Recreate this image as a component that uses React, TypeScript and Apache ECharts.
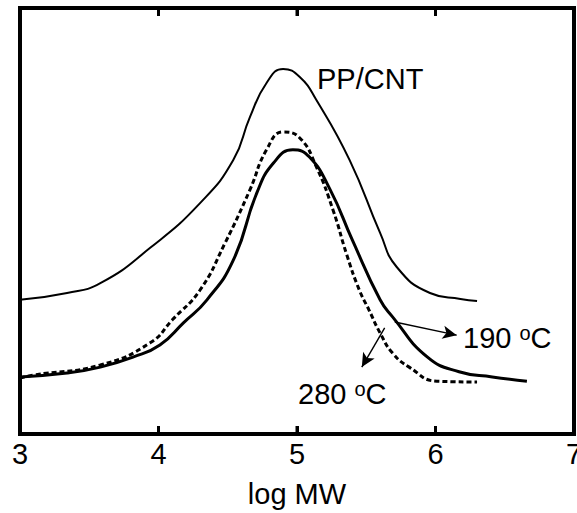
import React, { useEffect, useRef } from "react";
import * as echarts from "echarts";

// log MW values and curve heights (arbitrary units, 0-100 axis)
const ppcntX = [3.0, 3.34, 3.58, 3.94, 4.3, 4.54, 4.66, 4.78, 4.9, 5.02, 5.14, 5.38, 5.6, 5.72, 5.96, 6.18, 6.3];
const ppcntY = [31.5, 33.1, 35.4, 43.7, 54.2, 64.3, 74.4, 82.4, 85.7, 83.8, 78.4, 64.3, 47.2, 39.2, 33.1, 31.7, 31.2];

const c190X = [3.0, 3.34, 3.58, 3.82, 4.01, 4.18, 4.35, 4.54, 4.71, 4.83, 4.97, 5.09, 5.24, 5.4, 5.6, 5.69, 5.94, 6.17, 6.41, 6.66];
const c190Y = [13.4, 14.3, 15.7, 18.1, 20.9, 26.1, 31.5, 40.8, 56.6, 63.6, 66.7, 65.0, 57.3, 45.5, 31.5, 27.5, 18.1, 14.6, 13.4, 12.4];

const c280X = [3.0, 3.09, 3.58, 3.94, 4.1, 4.3, 4.48, 4.66, 4.78, 4.9, 5.02, 5.14, 5.26, 5.36, 5.45, 5.52, 5.6, 5.69, 5.81, 6.01, 6.3];
const c280Y = [13.1, 13.8, 16.2, 21.4, 26.8, 33.8, 44.8, 57.3, 66.7, 70.9, 69.5, 62.7, 52.6, 42.0, 33.8, 29.1, 23.7, 19.0, 15.7, 12.4, 12.2];

const xTicks = [3, 4, 5, 6, 7];
const yRange = [0, 100];

// annotation arrows (data coords): [from, to]
const arrow190 = [[5.706, 26.3], [6.153, 23.2]];
const arrow280 = [[5.633, 24.9], [5.468, 15.7]];

const FONT = "'Liberation Sans', Arial, sans-serif";

function zip(xs: number[], ys: number[]) {
  return xs.map((x, i) => [x, ys[i]]);
}
function mkTick() {
  return { show: true, inside: true, length: 8, lineStyle: { color: "#000", width: 3 } };
}
function mkLine() {
  return { show: true, onZero: false, lineStyle: { color: "#000", width: 4 } };
}

export default function App() {
  const ref = useRef<HTMLDivElement>(null);
  useEffect(() => {
    if (!ref.current) return;
    const chart = echarts.init(ref.current, null, { renderer: "svg" });
    chart.setOption({
      animation: false,
      backgroundColor: "#fff",
      grid: { left: 20, right: 3, top: 8, bottom: 79, outerBoundsMode: "none" },
      xAxis: [
        {
          type: "value",
          z: 20,
          min: xTicks[0],
          max: xTicks[xTicks.length - 1],
          interval: 1,
          position: "bottom",
          name: "log MW",
          nameLocation: "middle",
          nameGap: 45,
          nameTextStyle: { fontFamily: FONT, fontSize: 29, color: "#000" },
          axisLine: mkLine(),
          axisTick: mkTick(),
          axisLabel: { show: true, margin: 5, fontFamily: FONT, fontSize: 29, color: "#000" },
          splitLine: { show: false },
        },
        {
          type: "value",
          z: 20,
          min: xTicks[0],
          max: xTicks[xTicks.length - 1],
          interval: 1,
          position: "top",
          axisLine: mkLine(),
          axisTick: mkTick(),
          axisLabel: { show: false },
          splitLine: { show: false },
        },
      ],
      yAxis: [
        {
          type: "value",
          z: 20,
          min: yRange[0],
          max: yRange[1],
          position: "left",
          axisLine: mkLine(),
          axisTick: { show: false },
          axisLabel: { show: false },
          splitLine: { show: false },
        },
        {
          type: "value",
          z: 20,
          min: yRange[0],
          max: yRange[1],
          position: "right",
          axisLine: mkLine(),
          axisTick: { show: false },
          axisLabel: { show: false },
          splitLine: { show: false },
        },
      ],
      series: [
        {
          name: "PP/CNT",
          type: "line",
          data: zip(ppcntX, ppcntY),
          smooth: 0.5,
          showSymbol: false,
          lineStyle: { color: "#000", width: 2 },
        },
        {
          name: "190 °C",
          type: "line",
          data: zip(c190X, c190Y),
          smooth: 0.5,
          showSymbol: false,
          lineStyle: { color: "#000", width: 3 },
          markLine: {
            silent: true,
            symbol: ["none", "arrow"],
            symbolSize: [10, 14],
            label: { show: false },
            lineStyle: { color: "#000", width: 1.4, type: "solid" },
            data: [
              [{ coord: arrow190[0] }, { coord: arrow190[1] }],
              [{ coord: arrow280[0] }, { coord: arrow280[1] }],
            ],
          },
        },
        {
          name: "280 °C",
          type: "line",
          data: zip(c280X, c280Y),
          smooth: 0.5,
          showSymbol: false,
          lineStyle: { color: "#000", width: 3, type: [5, 3] },
        },
      ],
    });

    // frame edges and top ticks placed through the chart's own scales
    const tl = chart.convertToPixel({ gridIndex: 0 }, [xTicks[0], yRange[1]]) as number[];
    const br = chart.convertToPixel({ gridIndex: 0 }, [xTicks[xTicks.length - 1], yRange[0]]) as number[];
    const edge = (x1: number, y1: number, x2: number, y2: number, w: number) => ({
      type: "line",
      silent: true,
      z: 100,
      shape: { x1, y1, x2, y2 },
      style: { stroke: "#000", lineWidth: w },
    });
    const frame = [
      edge(tl[0] - 2, tl[1], br[0] + 2, tl[1], 4),
      edge(br[0], tl[1], br[0], br[1], 4),
      edge(tl[0], tl[1], tl[0], br[1], 4),
      edge(tl[0] - 2, br[1], br[0] + 2, br[1], 4),
    ];
    const ticks = xTicks.slice(1, -1).flatMap((t) => {
      const p = chart.convertToPixel({ gridIndex: 0 }, [t, yRange[1]]) as number[];
      return [edge(p[0], tl[1], p[0], tl[1] + 8, 3), edge(p[0], br[1], p[0], br[1] - 8, 3)];
    });
    const supRich = { s: { fontSize: 20, fontFamily: FONT, verticalAlign: "top", fill: "#000" } };
    chart.setOption({
      graphic: [
        ...frame,
        ...ticks,
        {
          type: "text",
          z: 100,
          left: 317,
          top: 64,
          style: { text: "PP/CNT", font: `29px ${FONT}`, fill: "#000" },
        },
        {
          type: "text",
          z: 100,
          left: 463,
          top: 323,
          style: { text: "190 {s|o}C", font: `29px ${FONT}`, fill: "#000", rich: supRich },
        },
        {
          type: "text",
          z: 100,
          left: 298,
          top: 379,
          style: { text: "280 {s|o}C", font: `29px ${FONT}`, fill: "#000", rich: supRich },
        },
      ],
    });
    return () => chart.dispose();
  }, []);
  return (
    <div
      ref={ref}
      style={{ position: "absolute", left: 0, top: 0, width: 577, height: 513, background: "#fff" }}
    />
  );
}
